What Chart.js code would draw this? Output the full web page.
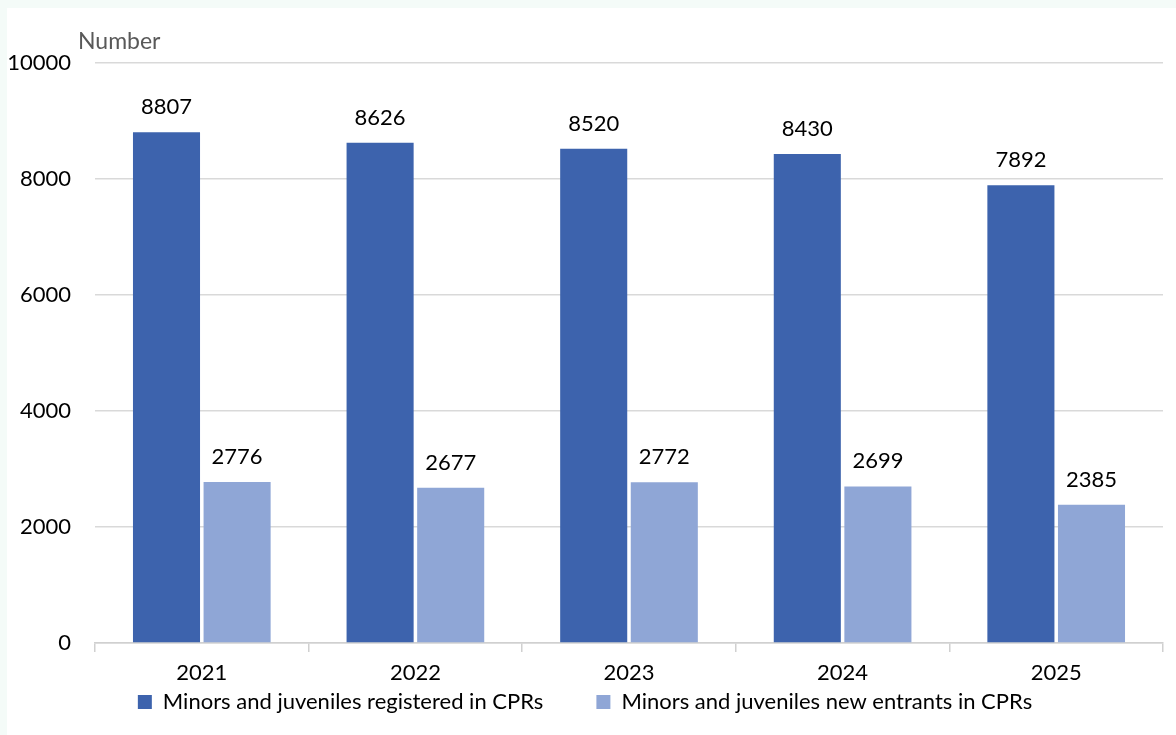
<!DOCTYPE html>
<html>
<head>
<meta charset="utf-8">
<script src="https://cdn.jsdelivr.net/npm/chart.js@4"></script>
<style>
  html, body { margin: 0; padding: 0; background: #f4fbf8; }
  #wrap { position: absolute; left: 7px; top: 8px; width: 1169px; height: 727px; background: #fff; }
  canvas { display: block; }
</style>
</head>
<body>
<div id="wrap"><canvas id="c" width="1169" height="727"></canvas></div>
<script>
// data
const YEARS = ['2021', '2022', '2023', '2024', '2025'];
const REGISTERED = [8807, 8626, 8520, 8430, 7892];
const NEW_ENTRANTS = [2776, 2677, 2772, 2699, 2385];
const SERIES_NAMES = ['Minors and juveniles registered in CPRs', 'Minors and juveniles new entrants in CPRs'];
const Y_UNIT = 'Number';

const FONT = 'Lato, "Noto Sans", sans-serif';

// value labels above every bar
const barValueLabels = {
  id: 'barValueLabels',
  afterDatasetsDraw(chart) {
    const ctx = chart.ctx;
    ctx.save();
    ctx.font = '22px ' + FONT;
    ctx.fillStyle = '#000';
    ctx.textAlign = 'center';
    ctx.textBaseline = 'alphabetic';
    chart.data.datasets.forEach((ds, di) => {
      const meta = chart.getDatasetMeta(di);
      meta.data.forEach((bar, i) => {
        ctx.fillText(String(ds.data[i]), bar.x, bar.y - 18);
      });
    });
    ctx.restore();
  }
};

// "Number" caption over the y axis
const unitLabel = {
  id: 'unitLabel',
  afterDraw(chart) {
    const ctx = chart.ctx;
    ctx.save();
    ctx.font = '23px ' + FONT;
    ctx.fillStyle = '#595959';
    ctx.textAlign = 'left';
    ctx.textBaseline = 'middle';
    ctx.fillText(Y_UNIT, chart.chartArea.left - 17, chart.chartArea.top - 21);
    ctx.restore();
  }
};

new Chart(document.getElementById('c'), {
  type: 'bar',
  data: {
    labels: YEARS,
    datasets: [
      {
        label: SERIES_NAMES[0],
        data: REGISTERED,
        backgroundColor: '#3d63ad',
        borderWidth: 0,
        categoryPercentage: 0.661,
        barPercentage: 0.95
      },
      {
        label: SERIES_NAMES[1],
        data: NEW_ENTRANTS,
        backgroundColor: '#8fa6d6',
        borderWidth: 0,
        categoryPercentage: 0.661,
        barPercentage: 0.95
      }
    ]
  },
  plugins: [barValueLabels, unitLabel],
  options: {
    responsive: false,
    animation: false,
    layout: { padding: { top: 55, right: 13, left: 0, bottom: 12 } },
    scales: {
      x: {
        grid: {
          display: true,
          drawOnChartArea: false,
          drawTicks: true,
          tickLength: 9,
          color: '#d0d0d0',
          lineWidth: 1.5
        },
        border: { display: true, color: '#d0d0d0', width: 1.5 },
        ticks: { color: '#000', font: { family: FONT, size: 22 }, padding: 8 },
        afterFit(scale) { scale.height = 40; }
      },
      y: {
        min: 0,
        max: 10000,
        ticks: {
          stepSize: 2000,
          color: '#000',
          font: { family: FONT, size: 22 },
          padding: 24,
          callback: v => String(v)
        },
        grid: { color: '#d9d9d9', lineWidth: 1.5, drawTicks: false },
        border: { display: false },
        afterFit(scale) { scale.width = 88; }
      }
    },
    plugins: {
      legend: {
        position: 'bottom',
        labels: {
          color: '#000',
          font: { family: FONT, size: 22 },
          boxWidth: 14,
          boxHeight: 14,
          padding: 8,
          // padding also sets the vertical gap, so widen the gap between the two entries with spaces
          generateLabels(chart) {
            const items = Chart.defaults.plugins.legend.labels.generateLabels(chart);
            items.forEach((it, i) => {
              if (i < items.length - 1) it.text += '\u00a0'.repeat(8);
            });
            return items;
          }
        }
      },
      tooltip: { enabled: false }
    }
  }
});
</script>
</body>
</html>
